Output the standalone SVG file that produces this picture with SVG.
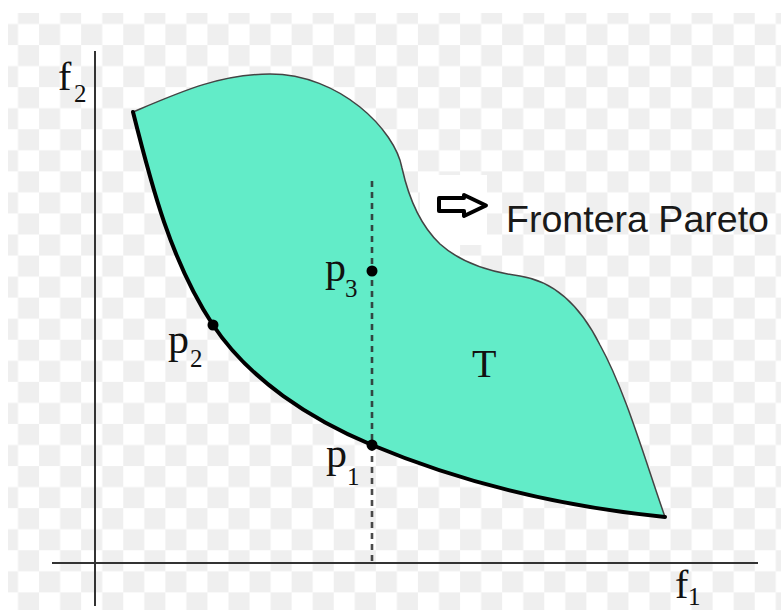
<svg xmlns="http://www.w3.org/2000/svg" width="781" height="610" viewBox="0 0 781 610">
  <defs>
    <pattern id="checker" patternUnits="userSpaceOnUse" x="-3.05" y="2.95" width="42.1" height="42.1">
      <rect width="42.1" height="42.1" fill="#ffffff"/>
      <rect x="21.05" y="0" width="21.05" height="21.05" fill="#efefef"/>
      <rect x="0" y="21.05" width="21.05" height="21.05" fill="#efefef"/>
    </pattern>
    <style>
      .axis { stroke: #333; stroke-width: 2; fill: none; }
      .dash { stroke: #2a2a2a; stroke-opacity: 0.85; stroke-width: 2.6; stroke-dasharray: 6 5; fill: none; }
      .region { fill: #62ECC8; stroke: #444; stroke-width: 1.5; }
      .front { fill: none; stroke: #000; stroke-width: 4; stroke-linecap: round; }
      .pt { fill: #000; }
      .m { font-family: "Liberation Serif", "Times New Roman", serif; font-size: 42px; fill: #111; }
      .f { font-family: "Liberation Serif", "Times New Roman", serif; font-size: 40px; fill: #111; }
      .s { font-family: "Liberation Serif", "Times New Roman", serif; font-size: 25px; fill: #111; }
      .lbl { font-family: "Liberation Sans", Arial, sans-serif; font-size: 36px; fill: #1a1a1a; }
    </style>
  </defs>
  <rect width="781" height="610" fill="#ffffff"/>
  <rect x="8" y="13" width="773" height="597" fill="url(#checker)"/>
  <rect x="420" y="175" width="67" height="70" fill="#ffffff"/>

  <g id="region-T">
    <path class="region" d="M133,112 C151.5,185.7 171,261.6 213,325 C249.4,380 311.2,419.5 372,445 C460.7,482.3 558.3,506.3 665,517 C645,460 625,390 600,345 C585,315 560,282 520,276 C490,272 460,262 440,244 C420,225 408,195 402,168 C395,130 340,74 270,74 C220,74 180,92 133,112 Z"/>
    <text class="f" x="472" y="377">T</text>
  </g>

  <g id="connectors">
    <line class="axis" x1="52" y1="563" x2="758" y2="563"/>
    <line class="axis" x1="95" y1="51" x2="95" y2="606"/>
    <line class="dash" x1="372" y1="181" x2="372" y2="561"/>
  </g>

  <g id="pareto-front">
    <path class="front" d="M133,112 C151.5,185.7 171,261.6 213,325 C249.4,380 311.2,419.5 372,445 C460.7,482.3 558.3,506.3 665,517"/>
  </g>

  <g id="p1">
    <circle class="pt" cx="372" cy="445" r="5.5"/>
    <text class="m" x="326" y="467">p</text>
    <text class="s" x="347" y="485">1</text>
  </g>
  <g id="p2">
    <circle class="pt" cx="213" cy="325" r="5.5"/>
    <text class="m" x="168" y="353">p</text>
    <text class="s" x="190" y="367">2</text>
  </g>
  <g id="p3">
    <circle class="pt" cx="372" cy="271" r="5.5"/>
    <text class="m" x="325" y="281">p</text>
    <text class="s" x="345" y="297">3</text>
  </g>

  <g id="axis-f2">
    <text class="f" x="58" y="90">f</text>
    <text class="s" x="74" y="102">2</text>
  </g>
  <g id="axis-f1">
    <text class="f" x="675" y="598">f</text>
    <text class="s" x="688" y="605">1</text>
  </g>

  <g id="legend">
    <polygon points="439,198 464,198 464,195 486,205.5 464,216 464,211 439,211" fill="#ffffff" stroke="#000" stroke-width="4" stroke-linejoin="round"/>
    <text class="lbl" x="506" y="232" textLength="263" lengthAdjust="spacingAndGlyphs">Frontera Pareto</text>
  </g>
</svg>
